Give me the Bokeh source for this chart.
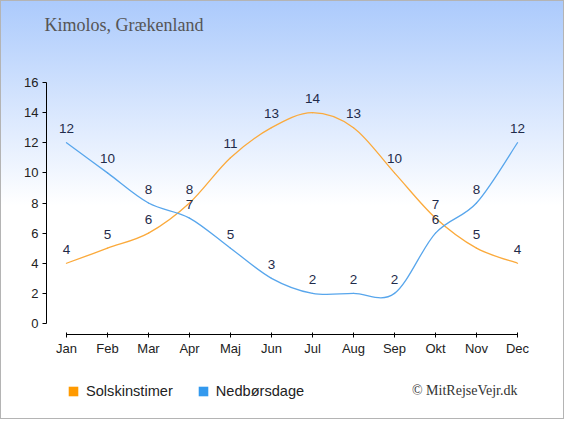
from bokeh.plotting import figure
from bokeh.models import Range1d, FixedTicker, Label, Legend, LegendItem, ColumnDataSource
from bokeh.embed import file_html
from bokeh.resources import INLINE
from bokeh.core.properties import value

# ---- data ----
months = ["Jan", "Feb", "Mar", "Apr", "Maj", "Jun", "Jul", "Aug", "Sep", "Okt", "Nov", "Dec"]
sun_hours = [4, 5, 6, 8, 11, 13, 14, 13, 10, 7, 5, 4]
rain_days = [12, 10, 8, 7, 5, 3, 2, 2, 2, 6, 8, 12]
y_ticks = [0, 2, 4, 6, 8, 10, 12, 14, 16]
title_text = "Kimolos, Grækenland"
series_names = ["Solskinstimer", "Nedbørsdage"]
credit_text = "© MitRejseVejr.dk"

SUN_LINE = "#fbaa3c"
RAIN_LINE = "#58a6ec"
SUN_BOX = "#ff9a00"
RAIN_BOX = "#3399ee"
LABEL_COLOR = "#1f2b4a"

W, H = 564, 419
PX_X = 41.0            # pixels per month
X0_PX = 66.0           # pixel of first month
PX_Y = 241.0 / 16      # pixels per unit
Y0_PX = 323.0          # pixel (from top) of value 0


def catmull_segments(xs, ys):
    n = len(xs)
    seg = dict(x0=[], y0=[], x1=[], y1=[], cx0=[], cy0=[], cx1=[], cy1=[])
    for i in range(n - 1):
        a = max(i - 1, 0)
        d = min(i + 2, n - 1)
        seg["x0"].append(xs[i]); seg["y0"].append(ys[i])
        seg["x1"].append(xs[i + 1]); seg["y1"].append(ys[i + 1])
        seg["cx0"].append(xs[i] + (xs[i + 1] - xs[a]) / 6.0)
        seg["cy0"].append(ys[i] + (ys[i + 1] - ys[a]) / 6.0)
        seg["cx1"].append(xs[i + 1] - (xs[d] - xs[i]) / 6.0)
        seg["cy1"].append(ys[i + 1] - (ys[d] - ys[i]) / 6.0)
    return seg


xs = list(range(len(months)))

x_start = -X0_PX / PX_X
x_end = x_start + W / PX_X
y_start = -(H - Y0_PX) / PX_Y
y_end = y_start + H / PX_Y

p = figure(width=W, height=H, output_backend="svg", toolbar_location=None,
           x_range=Range1d(x_start, x_end), y_range=Range1d(y_start, y_end),
           min_border=0, min_border_left=0, min_border_right=0,
           min_border_top=0, min_border_bottom=0)
p.background_fill_color = None
p.border_fill_color = None
p.outline_line_color = None
p.grid.visible = False
p.styles = {"background": "linear-gradient(to bottom, #abcafc 0%, #ffffff 49%, #ffffff 100%)",
            "outline": "1px solid #b4b4b4", "outline-offset": "-1px"}

# axes (fixed at their offset positions)
p.xaxis.fixed_location = -11.0 / PX_Y
p.yaxis.fixed_location = (46.0 - X0_PX) / PX_X
p.xaxis.ticker = FixedTicker(ticks=xs)
p.xaxis.major_label_overrides = {i: m for i, m in enumerate(months)}
p.xaxis.bounds = (0, len(months) - 1)
p.xaxis.major_tick_in = 2
p.xaxis.major_tick_out = 3
p.xaxis.major_label_standoff = 3
p.yaxis.ticker = FixedTicker(ticks=y_ticks)
p.yaxis.bounds = (y_ticks[0], y_ticks[-1])
p.yaxis.major_tick_in = 0
p.yaxis.major_tick_out = 4
p.yaxis.major_label_standoff = 4
for ax in (p.xaxis, p.yaxis):
    ax.axis_line_color = "black"
    ax.major_tick_line_color = "black"
    ax.minor_tick_line_color = None
    ax.major_label_text_font = "Liberation Sans"
    ax.major_label_text_font_size = "13px"
    ax.major_label_text_color = "#222222"

# lines
sun_seg = ColumnDataSource(catmull_segments(xs, sun_hours))
rain_seg = ColumnDataSource(catmull_segments(xs, rain_days))
p.bezier("x0", "y0", "x1", "y1", "cx0", "cy0", "cx1", "cy1", source=sun_seg,
         line_color=SUN_LINE, line_width=1.3, line_cap="round")
p.bezier("x0", "y0", "x1", "y1", "cx0", "cy0", "cx1", "cy1", source=rain_seg,
         line_color=RAIN_LINE, line_width=1.3, line_cap="round")

# value labels
for vals in (sun_hours, rain_days):
    src = ColumnDataSource(dict(x=xs, y=vals, t=[str(v) for v in vals]))
    p.text("x", "y", text="t", source=src, text_align="center", text_baseline="middle",
           y_offset=-14, text_font=value("Liberation Sans"), text_font_size="13.5px",
           text_color=LABEL_COLOR)

# legend swatches: hidden zero-size quads at the series points, shown only in the legend
sw1 = p.quad(left=xs, right=xs, top=sun_hours, bottom=sun_hours,
             fill_color=SUN_BOX, line_color=None, visible=False)
sw2 = p.quad(left=xs, right=xs, top=rain_days, bottom=rain_days,
             fill_color=RAIN_BOX, line_color=None, visible=False)
legend = Legend(items=[LegendItem(label=series_names[0], renderers=[sw1]),
                       LegendItem(label=series_names[1], renderers=[sw2])],
                orientation="horizontal", location=(67, 20.5),
                glyph_width=12, glyph_height=12, label_standoff=7, spacing=24,
                padding=0, margin=0, border_line_color=None, background_fill_color=None,
                background_fill_alpha=0, border_line_alpha=0,
                inactive_fill_alpha=0, inactive_fill_color=None,
                label_text_font="Liberation Sans", label_text_font_size="14.6px",
                label_text_color="#222222", label_height=10)
p.add_layout(legend, "center")

# title and credit
p.add_layout(Label(x=44, y=H - 24, x_units="screen", y_units="screen", text=title_text,
                   text_font="Liberation Serif", text_font_size="18px", text_color="#555555",
                   text_baseline="middle", text_align="left"))
p.add_layout(Label(x=517, y=H - 390, x_units="screen", y_units="screen", text=credit_text,
                   text_font="Liberation Serif", text_font_size="14px", text_color="#333333",
                   text_baseline="middle", text_align="right"))

open("out.html", "w").write(file_html(p, INLINE))
